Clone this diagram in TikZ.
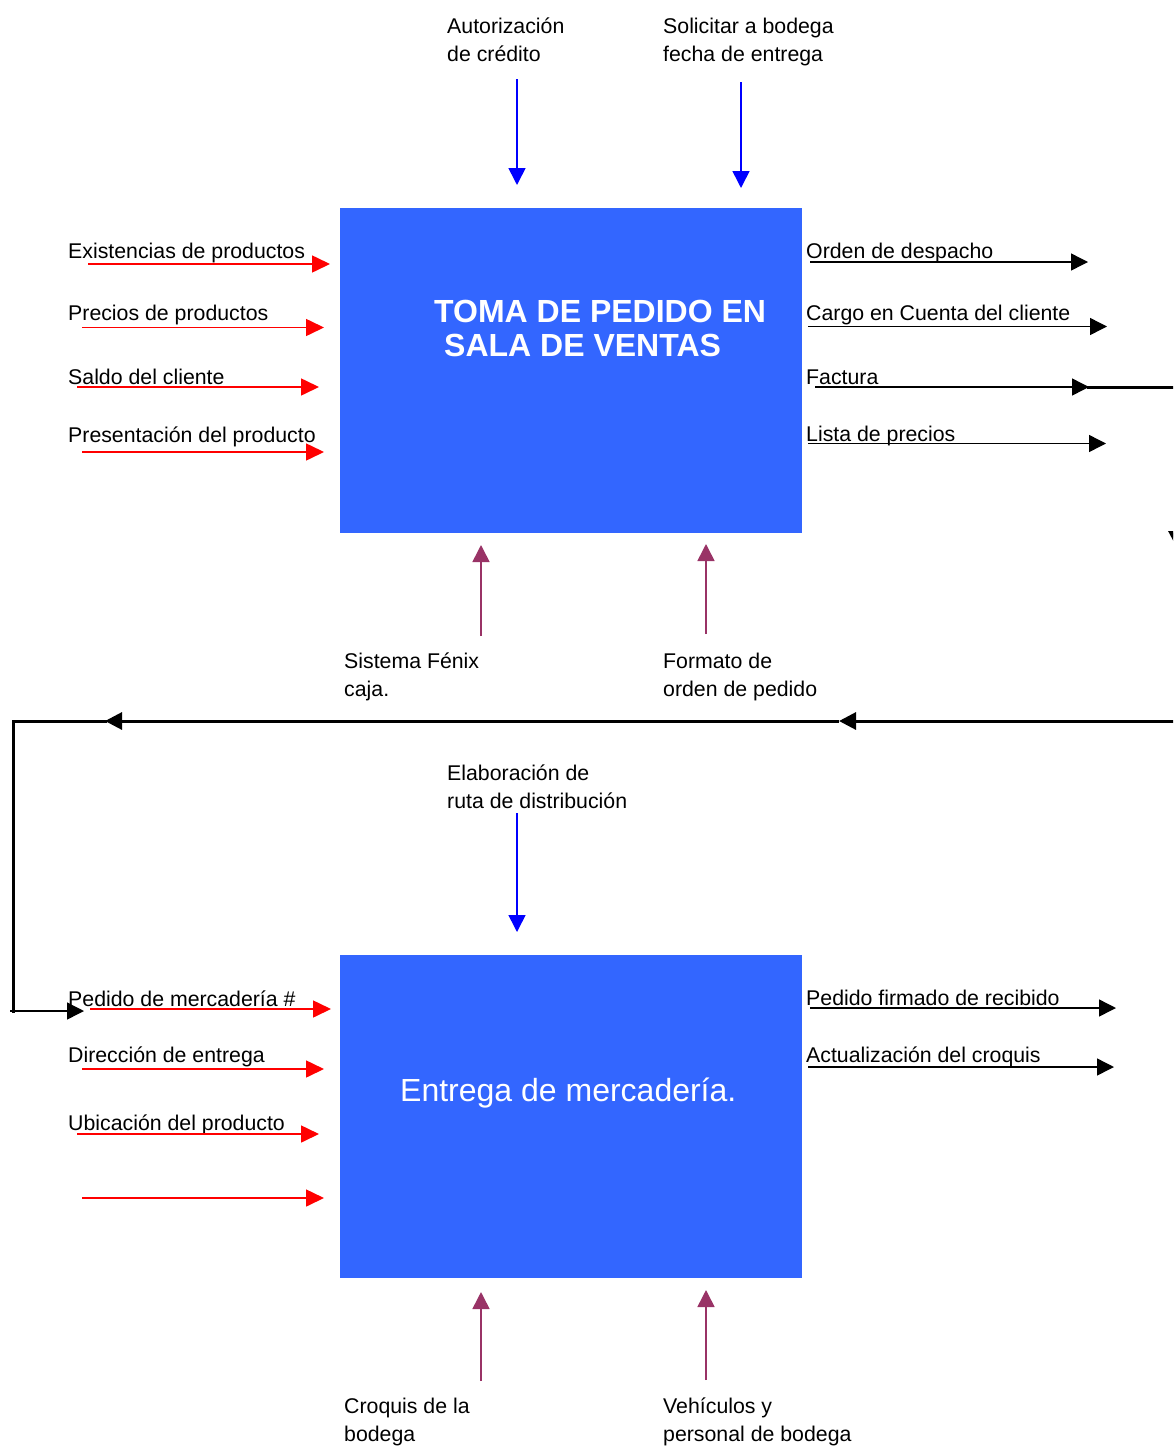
\documentclass[tikz,border=0pt]{standalone}
\usepackage{fontspec}
\setmainfont{Liberation Sans}
\usetikzlibrary{arrows.meta}
\definecolor{procblue}{RGB}{51,102,255}
\definecolor{ctrlblue}{RGB}{0,0,255}
\definecolor{mechpurple}{RGB}{153,51,102}
\tikzset{
  lbl/.style={anchor=base west, inner sep=0pt, font=\fontsize{21.3}{28}\selectfont},
  inarrow/.style={draw=red, line width=1.6pt, -{Triangle[length=18pt,width=17pt]}},
  outarrow/.style={draw=black, line width=1.4pt, -{Triangle[length=17pt,width=17pt]}},
  ctrlarrow/.style={draw=ctrlblue, line width=1.6pt, -{Triangle[length=17pt,width=17pt]}},
  mecharrow/.style={draw=mechpurple, line width=1.6pt, -{Triangle[length=17pt,width=17pt]}},
  feed/.style={draw=black, line width=3pt},
  feedtip/.style={feed, -{Triangle[length=17pt,width=17pt]}},
  process/.style={fill=procblue, draw=none, minimum width=462pt, minimum height=325pt, inner sep=0pt},
  ptitle/.style={anchor=base west, inner sep=0pt, text=white, font=\fontsize{32}{36}\selectfont},
}
\begin{document}
\begin{tikzpicture}[x=1pt, y=-1pt]
\useasboundingbox (0,0) rectangle (1173,1448);
\clip (0,0) rectangle (1173,1448);

% ---------- Process 1 ----------
\node[process] (p1) at (571,370.5) {};
\node[ptitle, font=\fontsize{32}{36}\bfseries] (p1a) at (434,322.5) {TOMA DE PEDIDO EN};
\node[ptitle, font=\fontsize{32}{36}\bfseries] (p1b) at (444,356) {SALA DE VENTAS};

% controls
\node[lbl] (c1a) at (447,33) {Autorización};
\node[lbl] (c1b) at (447,61) {de crédito};
\node[lbl] (c2a) at (663,33) {Solicitar a bodega};
\node[lbl] (c2b) at (663,61) {fecha de entrega};
\coordinate (c1s) at (517,79);  \coordinate (c1e) at (517,185);
\coordinate (c2s) at (741,82);  \coordinate (c2e) at (741,188);
\draw[ctrlarrow] (c1s) -- (c1e);
\draw[ctrlarrow] (c2s) -- (c2e);

% inputs
\node[lbl] (i1) at (68,258) {Existencias de productos};
\node[lbl] (i2) at (68,320.5) {Precios de productos};
\node[lbl] (i3) at (68,384) {Saldo del cliente};
\node[lbl] (i4) at (68,442) {Presentación del producto};
\coordinate (i1s) at (88,264);  \coordinate (i1e) at (330,264);
\coordinate (i2s) at (82,327.5); \coordinate (i2e) at (324,327.5);
\coordinate (i3s) at (77,387);  \coordinate (i3e) at (319,387);
\coordinate (i4s) at (82,452);  \coordinate (i4e) at (324,452);
\draw[inarrow] (i1s) -- (i1e);
\draw[inarrow] (i2s) -- (i2e);
\draw[inarrow] (i3s) -- (i3e);
\draw[inarrow] (i4s) -- (i4e);

% outputs
\node[lbl] (o1) at (806,258) {Orden de despacho};
\node[lbl] (o2) at (806,320.5) {Cargo en Cuenta del cliente};
\node[lbl] (o3) at (806,384) {Factura};
\node[lbl] (o4) at (806,441.5) {Lista de precios};
\coordinate (o1s) at (810,262);  \coordinate (o1e) at (1088,262);
\coordinate (o2s) at (808,326.5); \coordinate (o2e) at (1107,326.5);
\coordinate (o3s) at (815,387);  \coordinate (o3e) at (1089,387);
\coordinate (o4s) at (808,443.5); \coordinate (o4e) at (1106,443.5);
\draw[outarrow] (o1s) -- (o1e);
\draw[outarrow] (o2s) -- (o2e);
\draw[outarrow] (o3s) -- (o3e);
\draw[outarrow] (o4s) -- (o4e);

% mechanisms
\coordinate (m1s) at (481,636); \coordinate (m1e) at (481,545);
\coordinate (m2s) at (706,634); \coordinate (m2e) at (706,544);
\draw[mecharrow] (m1s) -- (m1e);
\draw[mecharrow] (m2s) -- (m2e);
\node[lbl] (m1a) at (344,668) {Sistema Fénix};
\node[lbl] (m1b) at (344,696) {caja.};
\node[lbl] (m2a) at (663,668) {Formato de};
\node[lbl] (m2b) at (663,696) {orden de pedido};

% ---------- Feedback from Factura to Process 2 ----------
\coordinate (f0) at (1087,387);
\coordinate (f1) at (1177,387);
\coordinate (f2) at (1177,548);
\coordinate (f3) at (1177,721);
\coordinate (f4) at (839,721);
\coordinate (f5) at (105,721);
\coordinate (f6) at (13,721);
\coordinate (f7) at (13,1011);
\coordinate (f8) at (10,1011);
\coordinate (f9) at (84,1011);
\draw[feed] (f0) -- (f1);
\draw[feedtip] (f1) -- (f2);
\draw[feed] (f2) -- (f3);
\draw[feedtip] (f3) -- (f4);
\draw[feedtip] (f4) -- (f5);
\draw[feed, line cap=rect] (f5) -- (f6) -- (f7);
\draw[outarrow] (f8) -- (f9);

% ---------- Process 2 ----------
\node[process, minimum height=323pt] (p2) at (571,1116.5) {};
\node[ptitle] (p2a) at (400,1101) {Entrega de mercadería.};

% control
\node[lbl] (c3a) at (447,780) {Elaboración de};
\node[lbl] (c3b) at (447,808) {ruta de distribución};
\coordinate (c3s) at (517,813); \coordinate (c3e) at (517,932);
\draw[ctrlarrow] (c3s) -- (c3e);

% inputs
\node[lbl] (j1) at (68,1006.5) {Pedido de mercadería \#};
\node[lbl] (j2) at (68,1062) {Dirección de entrega};
\node[lbl] (j3) at (68,1130.5) {Ubicación del producto};
\coordinate (j1s) at (90,1009);  \coordinate (j1e) at (331,1009);
\coordinate (j2s) at (82,1069);  \coordinate (j2e) at (324,1069);
\coordinate (j3s) at (77,1134);  \coordinate (j3e) at (319,1134);
\coordinate (j4s) at (82,1198);  \coordinate (j4e) at (324,1198);
\draw[inarrow] (j1s) -- (j1e);
\draw[inarrow] (j2s) -- (j2e);
\draw[inarrow] (j3s) -- (j3e);
\draw[inarrow] (j4s) -- (j4e);

% outputs
\node[lbl] (q1) at (806,1005.5) {Pedido firmado de recibido};
\node[lbl] (q2) at (806,1062) {Actualización del croquis};
\coordinate (q1s) at (810,1008); \coordinate (q1e) at (1116,1008);
\coordinate (q2s) at (808,1067); \coordinate (q2e) at (1114,1067);
\draw[outarrow] (q1s) -- (q1e);
\draw[outarrow] (q2s) -- (q2e);

% mechanisms
\coordinate (n1s) at (481,1381); \coordinate (n1e) at (481,1292);
\coordinate (n2s) at (706,1380); \coordinate (n2e) at (706,1290);
\draw[mecharrow] (n1s) -- (n1e);
\draw[mecharrow] (n2s) -- (n2e);
\node[lbl] (n1a) at (344,1413.5) {Croquis de la};
\node[lbl] (n1b) at (344,1441.5) {bodega};
\node[lbl] (n2a) at (663,1413.5) {Vehículos y};
\node[lbl] (n2b) at (663,1441.5) {personal de bodega};
\end{tikzpicture}
\end{document}
